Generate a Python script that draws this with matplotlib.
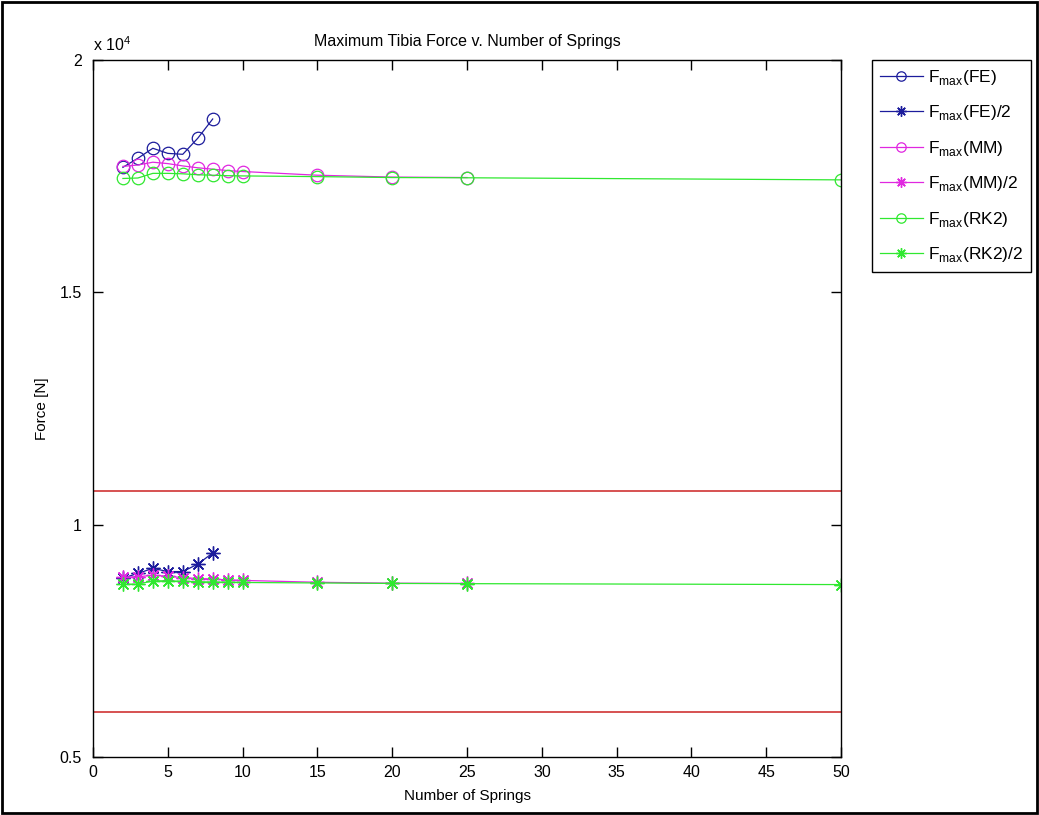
import numpy as np
import matplotlib
matplotlib.use('Agg')
import matplotlib.pyplot as plt
from matplotlib.ticker import FuncFormatter
from matplotlib.patches import Rectangle

plt.rcParams['font.family'] = ['Liberation Sans', 'DejaVu Sans']
plt.rcParams['mathtext.fontset'] = 'custom'
plt.rcParams['mathtext.rm'] = 'Liberation Sans'

# number of springs
x_fe = [2, 3, 4, 5, 6, 7, 8]
x_mm = [2, 3, 4, 5, 6, 7, 8, 9, 10, 15, 20, 25]
x_rk = [2, 3, 4, 5, 6, 7, 8, 9, 10, 15, 20, 25, 50]

# max tibia force [N]
fe = [17690, 17885, 18100, 17990, 17970, 18315, 18730]
fe_half = [8850, 8950, 9060, 8990, 8990, 9150, 9390]
mm = [17710, 17740, 17800, 17770, 17720, 17680, 17650, 17620, 17600, 17520, 17480, 17470]
mm_half = [8870, 8880, 8910, 8890, 8860, 8840, 8830, 8810, 8800, 8760, 8740, 8735]
rk = [17450, 17460, 17560, 17560, 17550, 17530, 17520, 17510, 17505, 17490, 17470, 17465, 17420]
rk_half = [8715, 8720, 8790, 8790, 8780, 8770, 8765, 8760, 8755, 8745, 8735, 8730, 8710]

# limit lines
limits = [10730, 5975]

labels = ['F$_{\\mathrm{max}}$(FE)', 'F$_{\\mathrm{max}}$(FE)/2',
          'F$_{\\mathrm{max}}$(MM)', 'F$_{\\mathrm{max}}$(MM)/2',
          'F$_{\\mathrm{max}}$(RK2)', 'F$_{\\mathrm{max}}$(RK2)/2']

blue = '#1c1c9c'
magenta = '#e028e0'
green = '#30e830'
star = (8, 2, 0)

fig = plt.figure(figsize=(10.39, 8.15), dpi=100)
ax = fig.add_axes([0.0895, 0.0712, 0.72, 0.8552])

lw = 0.9
h = []
h += ax.plot(x_fe, fe, '-o', color=blue, mfc='none', lw=lw, ms=9, mew=0.9)
h += ax.plot(x_fe, fe_half, '-', marker=star, color=blue, lw=lw, ms=10, mew=1)
h += ax.plot(x_mm, mm, '-o', color=magenta, mfc='none', lw=lw, ms=9, mew=0.9)
h += ax.plot(x_mm, mm_half, '-', marker=star, color=magenta, lw=lw, ms=10, mew=1)
h += ax.plot(x_rk, rk, '-o', color=green, mfc='none', lw=lw, ms=9, mew=0.9)
h += ax.plot(x_rk, rk_half, '-', marker=star, color=green, lw=lw, ms=10, mew=1)
for v in limits:
    ax.axhline(v, color='#cc2222', lw=1.1)

ax.set_xlim(0, 50)
ax.set_ylim(5000, 20000)
ax.set_xticks(np.arange(0, 51, 5))
ax.set_yticks([5000, 10000, 15000, 20000])
ax.yaxis.set_major_formatter(FuncFormatter(lambda v, p: '%g' % (v / 1e4)))
ax.tick_params(direction='in', top=True, right=True, length=7, width=1, labelsize=11.5)
ax.tick_params(axis='y', pad=8)
ax.tick_params(axis='x', pad=6)
for s in ax.spines.values():
    s.set_linewidth(1)

ax.set_title('Maximum Tibia Force v. Number of Springs', fontsize=11.5, pad=10)
ax.set_xlabel('Number of Springs', fontsize=11, labelpad=6)
ax.set_ylabel('Force [N]', fontsize=11, labelpad=8)
ax.text(0.0, 1.008, 'x 10$^{4}$', transform=ax.transAxes, fontsize=11.5, va='bottom')

leg = ax.legend(h, labels, loc='upper left', bbox_to_anchor=(0.839, 0.9264),
                bbox_transform=fig.transFigure, borderaxespad=0, fancybox=False,
                edgecolor='black', framealpha=1, fontsize=12.5, handlelength=2.5,
                labelspacing=0.95, borderpad=0.45, handletextpad=0.3,
                markerscale=0.75)
leg.get_frame().set_linewidth(1)

fig.patches.append(Rectangle((0.002, 0.002), 0.996, 0.996, transform=fig.transFigure,
                             fill=False, edgecolor='black', lw=2))

fig.savefig('out.png', dpi=100)
